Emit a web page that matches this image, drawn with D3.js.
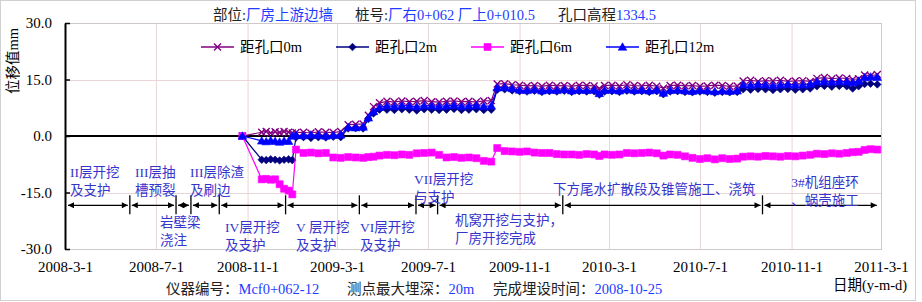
<!DOCTYPE html>
<html>
<head>
<meta charset="utf-8">
<script src="https://cdn.jsdelivr.net/npm/d3@7"></script>
<style>
body { margin: 0; background: #fff; }
text { font-family: "Liberation Serif", "Noto Sans CJK SC", serif; }
</style>
</head>
<body>
<div id="chart"></div>
<script>
const parse = d3.timeParse("%Y-%m-%d");

// measurement dates
const dates = ["2008-10-25","2008-11-20","2008-11-26","2008-12-02","2008-12-08","2008-12-14","2008-12-20","2008-12-26","2008-12-31",
  "2009-01-05","2009-01-15","2009-01-25","2009-02-04","2009-02-14","2009-02-24","2009-03-06","2009-03-16","2009-03-26","2009-04-05",
  "2009-04-12","2009-04-19","2009-04-27","2009-05-07","2009-05-17","2009-05-27","2009-06-06","2009-06-16","2009-06-26","2009-07-06",
  "2009-07-16","2009-07-26","2009-08-05","2009-08-15","2009-08-25","2009-09-04","2009-09-14","2009-09-24","2009-10-02","2009-10-12",
  "2009-10-22","2009-11-01","2009-11-11","2009-11-21","2009-12-01","2009-12-11","2009-12-21","2009-12-31","2010-01-10","2010-01-20",
  "2010-01-30","2010-02-09","2010-02-16","2010-02-23","2010-03-05","2010-03-15","2010-03-25","2010-04-04","2010-04-14","2010-04-24",
  "2010-05-04","2010-05-13","2010-05-22","2010-06-01","2010-06-11","2010-06-21","2010-07-01","2010-07-11","2010-07-21","2010-07-31",
  "2010-08-10","2010-08-20","2010-08-28","2010-09-07","2010-09-17","2010-09-27","2010-10-07","2010-10-17","2010-10-27","2010-11-06",
  "2010-11-16","2010-11-26","2010-12-05","2010-12-15","2010-12-25","2011-01-04","2011-01-14","2011-01-22","2011-01-30","2011-02-07",
  "2011-02-15","2011-02-24"];

// displacement (mm) per depth
const hole0m = [0, 1.0, 1.2, 0.8, 1.1, 0.9, 1.2, 1.0, 0.8,
  0.9, 1.0, 0.8, 1.1, 1.0, 0.9, 1.2, 3.0, 3.1, 3.2,
  5.5, 7.8, 8.8, 9.2, 9.0, 9.3, 9.1, 9.2, 9.4, 9.1,
  9.0, 9.2, 9.3, 9.1, 9.2, 9.0, 9.3, 9.4, 13.8, 13.9,
  13.6, 13.5, 13.3, 13.4, 13.2, 13.5, 13.3, 13.4, 13.2, 13.5,
  13.4, 13.3, 12.6, 13.4, 13.5, 13.3, 13.6, 13.4, 13.3, 13.5,
  13.2, 12.7, 13.4, 13.5, 13.3, 13.4, 13.2, 13.3, 13.5, 13.4,
  13.2, 13.3, 14.6, 14.8, 14.5, 14.7, 14.6, 14.8, 14.5, 14.6,
  14.7, 14.5, 15.3, 15.5, 15.2, 15.4, 15.3, 15.0, 15.2, 16.2,
  16.0, 16.3];

const hole2m = [0, -6.3, -6.4, -6.2, -6.3, -6.5, -6.3, -6.2, -6.4,
  -0.4, -0.3, -0.5, -0.3, -0.4, -0.2, -0.3, 2.0, 2.1, 2.0,
  4.5, 6.0, 7.0, 7.0, 6.9, 7.1, 7.0, 6.8, 7.1, 7.0,
  6.9, 7.0, 7.2, 6.9, 7.0, 7.1, 6.9, 7.0, 12.3, 12.4,
  12.1, 11.9, 11.8, 12.0, 11.7, 11.9, 11.8, 12.0, 11.7, 11.9,
  11.8, 11.9, 11.0, 11.8, 11.9, 11.7, 12.0, 11.8, 11.9, 11.7,
  11.9, 11.1, 11.8, 11.9, 11.7, 11.6, 11.8, 11.7, 11.5, 11.7,
  11.6, 11.7, 12.4, 12.3, 12.5, 12.4, 12.2, 12.4, 12.5, 12.3,
  12.4, 12.6, 13.2, 13.3, 13.1, 13.3, 13.2, 12.6, 13.2, 13.8,
  13.9, 13.7];

const hole6m = [0, -11.5, -11.4, -11.6, -11.5, -12.8, -14.0, -14.5, -15.5,
  -3.6, -4.5, -4.4, -4.6, -4.5, -5.7, -5.8, -5.6, -5.7, -5.8,
  -5.6, -5.5, -5.2, -5.0, -5.1, -4.9, -5.0, -4.6, -4.5, -4.4,
  -5.0, -5.7, -5.6, -5.8, -5.7, -5.9, -6.6, -6.8, -3.2, -4.0,
  -4.1, -4.2, -4.1, -4.4, -4.5, -4.5, -4.8, -4.9, -4.9, -5.0,
  -4.8, -4.9, -5.3, -4.9, -5.0, -4.9, -4.5, -4.6, -4.5, -4.4,
  -4.6, -5.2, -4.9, -5.0, -5.4, -5.8, -6.1, -5.9, -6.2, -5.9,
  -6.1, -6.0, -5.5, -5.4, -5.5, -5.3, -5.4, -5.5, -5.3, -5.4,
  -5.2, -5.0, -4.7, -4.8, -4.6, -4.7, -4.5, -4.3, -4.2, -3.7,
  -3.5, -3.6];

const hole12m = [0, -1.3, -1.5, -1.2, -1.4, -1.6, -1.3, -1.4, 0.0,
  0.2, 0.1, 0.3, 0.2, 0.0, 0.2, 0.3, 2.3, 2.2, 2.4,
  4.8, 6.5, 7.6, 8.0, 7.9, 8.1, 8.0, 7.8, 8.1, 8.0,
  7.9, 8.0, 8.2, 7.9, 8.0, 8.1, 7.9, 8.0, 12.8, 12.9,
  12.6, 12.2, 12.1, 12.3, 12.0, 12.2, 12.1, 12.3, 12.0, 12.2,
  12.1, 12.2, 11.3, 12.1, 12.2, 12.0, 12.3, 12.1, 12.2, 12.0,
  12.2, 11.4, 12.1, 12.2, 12.0, 11.9, 12.1, 12.0, 11.8, 12.0,
  11.9, 12.0, 13.6, 13.5, 13.7, 13.6, 13.4, 13.6, 13.7, 13.5,
  13.6, 13.8, 14.4, 14.5, 14.3, 14.5, 14.4, 14.2, 14.6, 15.5,
  15.7, 15.6];

const seriesNames = ["距孔口0m", "距孔口2m", "距孔口6m", "距孔口12m"];
const xTicks = ["2008-03-01","2008-07-01","2008-11-01","2009-03-01","2009-07-01","2009-11-01","2010-03-01","2010-07-01","2010-11-01","2011-03-01"];
const yTicks = [-30, -15, 0, 15, 30];

// construction stages along the time axis
const stageBounds = ["2008-03-01","2008-05-27","2008-07-28","2008-08-17","2008-09-24","2008-12-22","2009-03-31",
  "2009-06-15","2009-07-14","2009-12-29","2010-09-23","2011-02-26"];
const stageNames = [["II层开挖","及支护"], ["III层抽","槽预裂"], ["岩壁梁","浇注"], ["III层除渣","及刷边"],
  ["IV层开挖","及支护"], ["V 层开挖","及支护"], ["VI层开挖","及支护"], ["VII层开挖","与支护"],
  ["机窝开挖与支护，","厂房开挖完成"], ["下方尾水扩散段及锥管施工、浇筑"], ["3#机组座环","、蜗壳施工"]];
// text placement for the stage names: [x, y of first line, anchor]
const stageLabelPos = [[70,172,"start"],[135,172,"start"],[160,222,"start"],[190,172,"start"],
  [225,227,"start"],[296,227,"start"],[360,227,"start"],[414,179,"start"],
  [455,220,"start"],[553,189,"start"],[825,182,"middle"]];

const width = 922, height = 302;
const plot = {left: 65, right: 881, top: 23, bottom: 249};

const svg = d3.select("#chart").append("svg")
    .attr("width", width)
    .attr("height", height);

svg.append("rect") // chart frame
    .attr("x", 0.5).attr("y", 0.5)
    .attr("width", 915).attr("height", 300)
    .attr("fill", "#fff").attr("stroke", "#d0d0d0");

let x = d3.scaleTime()
    .domain([parse("2008-03-01"), parse("2011-03-01")])
    .range([plot.left, plot.right]);

let y = d3.scaleLinear()
    .domain([-30, 30])
    .range([plot.bottom, plot.top]);

// grid
svg.append("g").selectAll("line")
    .data(xTicks.slice(1, -1))
    .join("line")
    .attr("x1", d => x(parse(d)) + 0.5).attr("x2", d => x(parse(d)) + 0.5)
    .attr("y1", plot.top).attr("y2", plot.bottom)
    .attr("stroke", "#ead6d6");

svg.append("g").selectAll("line")
    .data([15, -15])
    .join("line")
    .attr("x1", plot.left).attr("x2", plot.right)
    .attr("y1", d => Math.round(y(d)) + 0.5).attr("y2", d => Math.round(y(d)) + 0.5)
    .attr("stroke", "#ead6d6");

svg.append("rect") // plot border
    .attr("x", plot.left + 0.5).attr("y", plot.top + 0.5)
    .attr("width", plot.right - plot.left).attr("height", plot.bottom - plot.top)
    .attr("fill", "none").attr("stroke", "#cfc8c8");

// axes
let yAxis = svg.append("g")
    .attr("transform", `translate(${plot.left},0)`)
    .call(d3.axisLeft(y).tickValues(yTicks).tickSize(-5).tickSizeOuter(0).tickPadding(13)
        .tickFormat(d => d.toFixed(1)));
yAxis.select(".domain").attr("stroke", "#000").attr("stroke-width", 2);
yAxis.selectAll(".tick line").attr("stroke", "#000").attr("stroke-width", 1.5);
yAxis.selectAll("text").attr("font-size", 15).attr("fill", "#000")
    .style("font-family", '"Liberation Serif", serif');

let xAxis = svg.append("g")
    .attr("transform", `translate(0,${plot.bottom})`)
    .call(d3.axisBottom(x).tickValues(xTicks.map(parse)).tickSize(0).tickPadding(12)
        .tickFormat(d => `${d.getFullYear()}-${d.getMonth() + 1}-${d.getDate()}`));
xAxis.select(".domain").remove();
xAxis.selectAll("text").attr("font-size", 15).attr("fill", "#000")
    .style("font-family", '"Liberation Serif", serif');

svg.append("line") // zero line
    .attr("x1", plot.left).attr("x2", plot.right)
    .attr("y1", y(0)).attr("y2", y(0))
    .attr("stroke", "#000").attr("stroke-width", 2);

// markers
const shapes = {
    times: "M-3.5,-3.5L3.5,3.5M-3.5,3.5L3.5,-3.5",
    diamond: "M0,-3.8L3.8,0L0,3.8L-3.8,0Z",
    square: "M-3.5,-3.5H3.5V3.5H-3.5Z",
    triangle: "M0,-4.2L4.3,3.2L-4.3,3.2Z"
};

const series = [
    {name: seriesNames[0], values: hole0m, color: "#800080", shape: "times"},
    {name: seriesNames[1], values: hole2m, color: "#000080", shape: "diamond"},
    {name: seriesNames[2], values: hole6m, color: "#ff00ff", shape: "square"},
    {name: seriesNames[3], values: hole12m, color: "#0000ff", shape: "triangle"}
];

function drawMarker(g, s) {
    if (s.shape === "times") {
        g.append("path").attr("d", shapes.times).attr("fill", "none")
            .attr("stroke", s.color).attr("stroke-width", 1.4);
    } else {
        g.append("path").attr("d", shapes[s.shape]).attr("fill", s.color)
            .attr("stroke", s.color).attr("stroke-width", 0.6);
    }
}

let line = d3.line()
    .x(d => x(d.date))
    .y(d => y(d.v));

for (let s of series) {
    let rows = dates.map((d, i) => ({date: parse(d), v: s.values[i]}));
    let g = svg.append("g");
    g.append("path")
        .datum(rows)
        .attr("d", line)
        .attr("fill", "none")
        .attr("stroke", s.color)
        .attr("stroke-width", 1.2);
    g.selectAll(".pt")
        .data(rows)
        .join("g")
        .attr("class", "pt")
        .attr("transform", d => `translate(${x(d.date)},${y(d.v)})`)
        .each(function() { drawMarker(d3.select(this), s); });
}

// legend
let legend = svg.append("g").attr("transform", "translate(201,47)");
series.forEach((s, i) => {
    let item = legend.append("g").attr("transform", `translate(${i * 135},0)`);
    item.append("line").attr("x1", 0).attr("x2", 33).attr("y1", 0).attr("y2", 0)
        .attr("stroke", s.color).attr("stroke-width", 1.5);
    drawMarker(item.append("g").attr("transform", "translate(16.5,0)"), s);
    item.append("text").attr("x", 39).attr("y", 5)
        .attr("font-size", 14.5).attr("fill", "#000").text(s.name);
});

// construction stage arrows
svg.append("defs").html(`
  <marker id="ah" viewBox="0 0 10 10" refX="10" refY="5" markerWidth="7" markerHeight="6"
    markerUnits="userSpaceOnUse" orient="auto-start-reverse">
    <path d="M0,0L10,5L0,10Z" fill="#000"/>
  </marker>`);

const arrowY = y(-18.4);
let stages = svg.append("g");
stageBounds.slice(1, -1).forEach(b => {
    stages.append("line")
        .attr("x1", x(parse(b))).attr("x2", x(parse(b)))
        .attr("y1", arrowY - 10).attr("y2", arrowY + 9)
        .attr("stroke", "#000").attr("stroke-width", 1.3);
});
for (let i = 0; i < stageBounds.length - 1; i++) {
    stages.append("line")
        .attr("x1", x(parse(stageBounds[i])) + (i === 0 ? 3 : 2))
        .attr("x2", x(parse(stageBounds[i + 1])) - 2)
        .attr("y1", arrowY).attr("y2", arrowY)
        .attr("stroke", "#000").attr("stroke-width", 1.3)
        .attr("marker-start", "url(#ah)").attr("marker-end", "url(#ah)");
}

stageNames.forEach((lines, i) => {
    let [px, py, anchor] = stageLabelPos[i];
    let t = stages.append("text")
        .attr("font-size", 13.5).attr("fill", "#3535cc")
        .attr("text-anchor", anchor);
    lines.forEach((l, j) => {
        t.append("tspan").attr("x", px).attr("y", py + 5 + j * 17.5).text(l);
    });
});

// header
function infoLine(parts, px, py) {
    let t = svg.append("text").attr("x", px).attr("y", py).attr("font-size", 14.5);
    parts.forEach(([txt, blue]) => {
        t.append("tspan").attr("fill", blue ? "#1e3cff" : "#222").text(txt);
    });
}
infoLine([["部位:", false], ["厂房上游边墙", true]], 213, 20);
infoLine([["桩号:", false], ["厂右0+062 厂上0+010.5", true]], 355, 20);
infoLine([["孔口高程", false], ["1334.5", true]], 558, 20);

infoLine([["仪器编号：", false], ["Mcf0+062-12", true]], 166, 294);
infoLine([["测点最大埋深：", false], ["20m", true]], 347, 294);
infoLine([["完成埋设时间：", false], ["2008-10-25", true]], 493, 294);

svg.append("text")
    .attr("x", 833).attr("y", 290)
    .attr("font-size", 14.5).attr("fill", "#000")
    .text("日期(y-m-d)");

svg.append("text")
    .attr("transform", "translate(18,61) rotate(-90)")
    .attr("text-anchor", "middle")
    .attr("font-size", 14.5).attr("fill", "#000")
    .text("位移值mm");
</script>
</body>
</html>
